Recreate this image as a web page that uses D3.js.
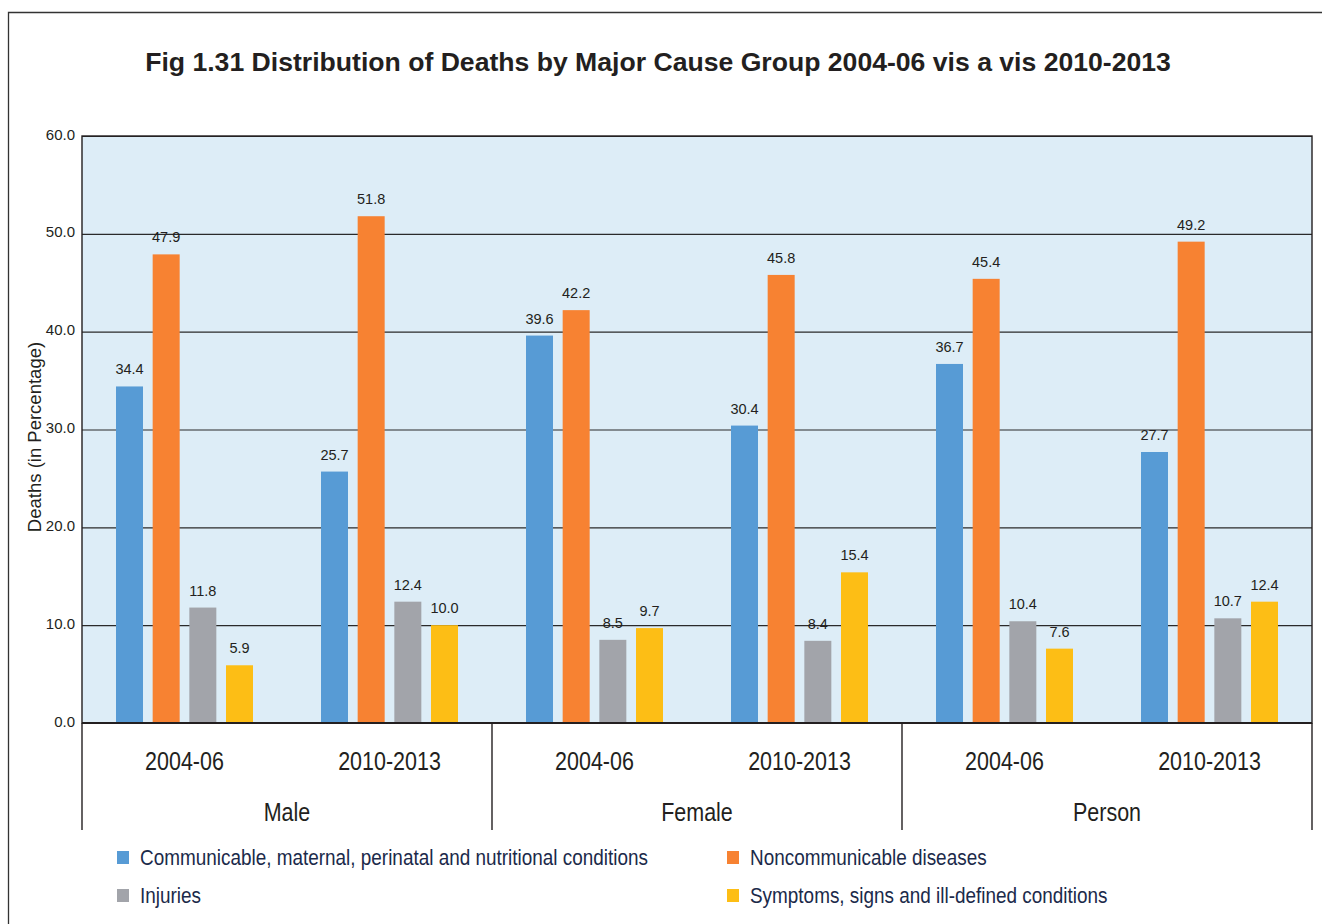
<!DOCTYPE html>
<html><head><meta charset="utf-8">
<script src="https://cdn.jsdelivr.net/npm/d3@7/dist/d3.min.js"></script>
<style>
body{margin:0;background:#fff;}
svg{display:block;}
</style></head>
<body>
<svg id="chart" width="1322" height="924"></svg>
<script>
const title = "Fig 1.31 Distribution of Deaths by Major Cause Group 2004-06 vis a vis 2010-2013";
const groups = ["Male", "Female", "Person"];
const periods = ["2004-06", "2010-2013"];
const series = ["Communicable, maternal, perinatal and nutritional conditions", "Noncommunicable diseases", "Injuries", "Symptoms, signs and ill-defined conditions"];
const colors = ["#579BD5", "#F78232", "#A2A4AA", "#FDBE15"];
// values per series, in order: Male 2004-06, Male 2010-2013, Female 2004-06, Female 2010-2013, Person 2004-06, Person 2010-2013
const communicable = [34.4, 25.7, 39.6, 30.4, 36.7, 27.7];
const noncommunicable = [47.9, 51.8, 42.2, 45.8, 45.4, 49.2];
const injuries = [11.8, 12.4, 8.5, 8.4, 10.4, 10.7];
const symptoms = [5.9, 10.0, 9.7, 15.4, 7.6, 12.4];
const yTicks = [0, 10, 20, 30, 40, 50, 60];
const yTitle = "Deaths (in Percentage)";

const seriesValues = [communicable, noncommunicable, injuries, symptoms];
const cells = [];
groups.forEach(g => periods.forEach(p => cells.push({g, p, key: g + "|" + p})));
const svg = d3.select("#chart");
const FONT = "'Liberation Sans', Arial, sans-serif";

const L = 82, R = 1312, T = 136, B = 723;

// outer frame
svg.append("path").attr("d", `M8.5,924 V12.5 H1322`).attr("fill", "none").attr("stroke", "#333").attr("stroke-width", 1.3);

svg.append("text").attr("x", 658).attr("y", 71).attr("text-anchor", "middle")
  .attr("font-family", FONT).attr("font-weight", "bold").attr("font-size", 26.6).attr("fill", "#231F20").text(title);

const y = d3.scaleLinear().domain([0, 60]).range([B, T]);
const x0 = d3.scaleBand().domain(cells.map(c => c.key)).range([L, R]).padding(0);
const x1 = d3.scaleBand().domain(series).range([-68.5, 68.5]).paddingInner(0.2636).paddingOuter(0);

svg.append("rect").attr("x", L).attr("y", T).attr("width", R - L).attr("height", B - T).attr("fill", "#DDEDF7");

// gridlines
const yAxis = d3.axisLeft(y).tickValues(yTicks).tickSize(-(R - L)).tickFormat(d3.format(".1f"));
const ga = svg.append("g").attr("transform", `translate(${L},0)`).call(yAxis);
ga.select(".domain").remove();
ga.selectAll(".tick line").attr("stroke", "#2a2a2a").attr("stroke-width", 1.1);
ga.selectAll(".tick text").attr("x", -7).attr("dy", "0.2em").attr("font-family", FONT).attr("font-size", 15).attr("fill", "#231F20");

// condensed text helper
function condensed(x, yy, str, size) {
  svg.append("text").attr("transform", `translate(${x},${yy}) scale(0.86,1)`).attr("text-anchor", "middle")
    .attr("font-family", FONT).attr("font-size", size).attr("fill", "#231F20").text(str);
}

// bars
cells.forEach((c, i) => {
  const cx = x0(c.key) + x0.bandwidth() / 2;
  series.forEach((s, si) => {
    const v = seriesValues[si][i];
    svg.append("rect").attr("x", cx + x1(s)).attr("width", x1.bandwidth())
      .attr("y", y(v)).attr("height", y(0) - y(v)).attr("fill", colors[si]);
    svg.append("text").attr("x", cx + x1(s) + x1.bandwidth() / 2).attr("y", y(v) - 12)
      .attr("text-anchor", "middle").attr("font-family", FONT).attr("font-size", 14.5).attr("fill", "#231F20")
      .text(d3.format(".1f")(v));
  });
  condensed(cx, 770, c.p, 25);
});

// frame lines
svg.append("rect").attr("x", L).attr("y", T).attr("width", R - L).attr("height", B - T).attr("fill", "none").attr("stroke", "#231F20").attr("stroke-width", 1.4);
svg.append("line").attr("x1", L).attr("x2", R).attr("y1", B).attr("y2", B).attr("stroke", "#231F20").attr("stroke-width", 2);
const gw = (R - L) / groups.length;
for (let k = 0; k <= groups.length; k++) {
  svg.append("line").attr("x1", L + k * gw).attr("x2", L + k * gw).attr("y1", B).attr("y2", 830).attr("stroke", "#231F20").attr("stroke-width", 1.4);
}
groups.forEach((g, k) => condensed(L + k * gw + gw / 2, 821, g, 25));

svg.append("text").attr("transform", `translate(41,437) rotate(-90)`).attr("text-anchor", "middle")
  .attr("font-family", FONT).attr("font-size", 18.5).attr("fill", "#231F20").text(yTitle);

// legend
const legPos = [[117, 857], [727, 857], [117, 895], [727, 895]];
series.forEach((s, si) => {
  const [lx, ly] = legPos[si];
  svg.append("rect").attr("x", lx).attr("y", ly - 6).attr("width", 12).attr("height", 13).attr("fill", colors[si]);
  svg.append("text").attr("transform", `translate(${lx + 23},${ly + 8}) scale(0.88,1)`).attr("font-family", FONT).attr("font-size", 21.5)
    .attr("fill", "#1B2A4A").text(s);
});
</script>
</body></html>
